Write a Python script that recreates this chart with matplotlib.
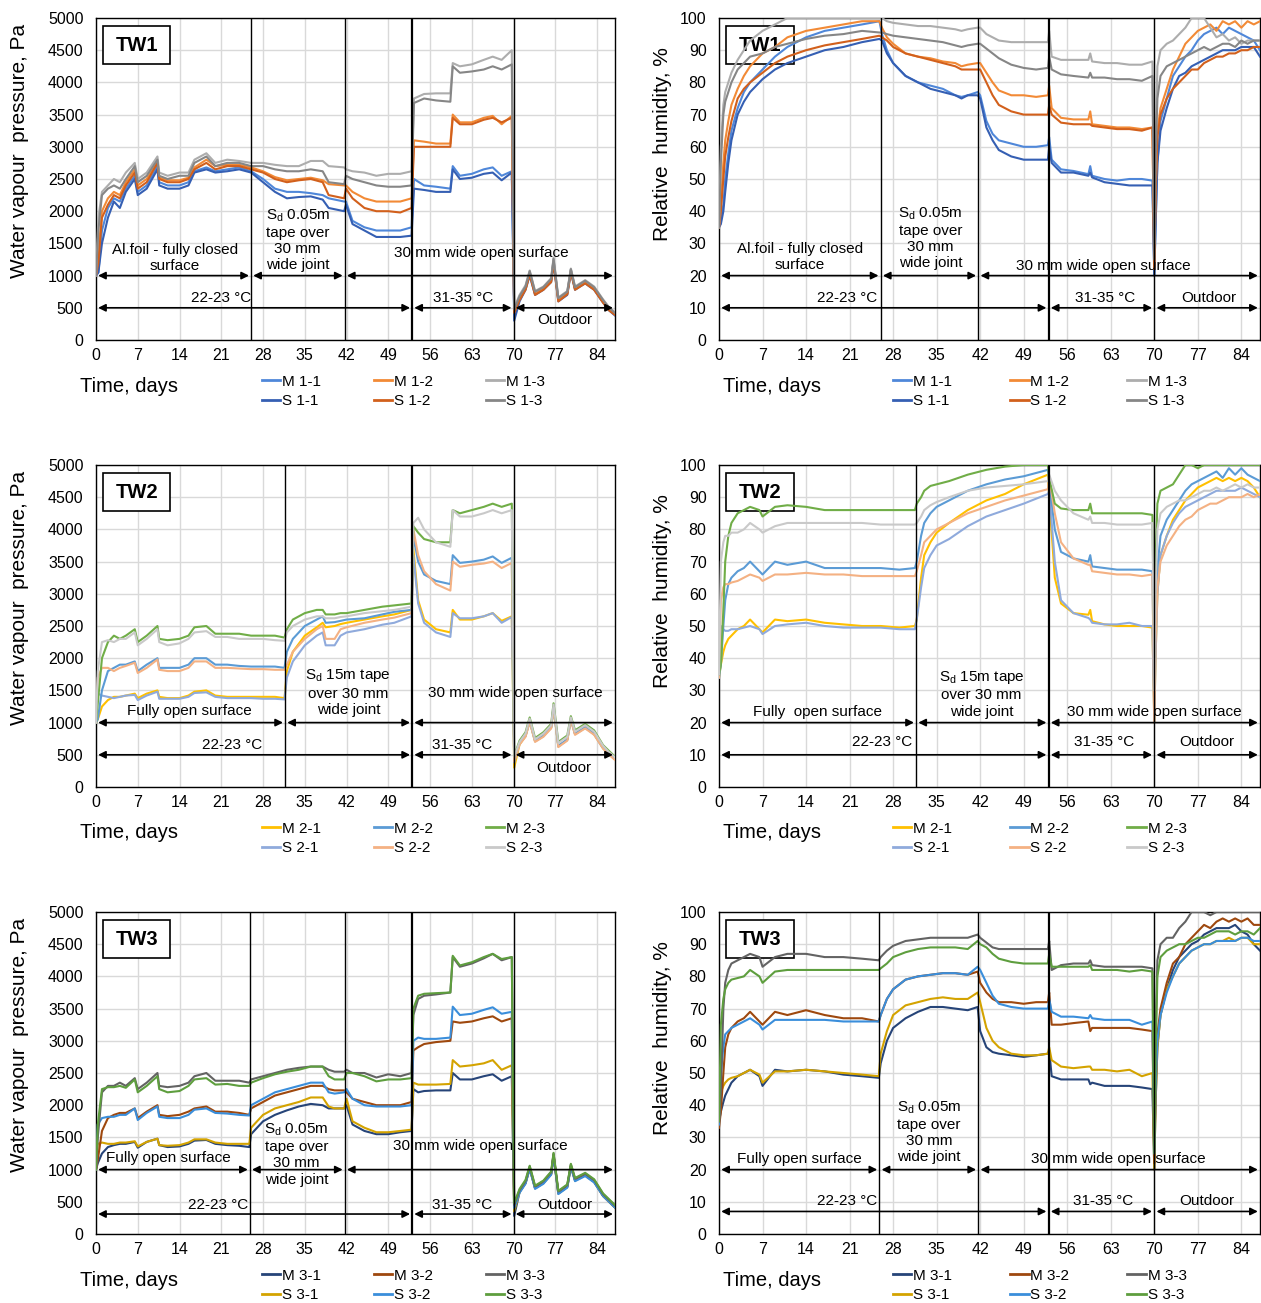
import numpy as np
import matplotlib
matplotlib.use('Agg')
import matplotlib.pyplot as plt
from matplotlib.patches import Rectangle

plt.rcParams['font.family'] = ['Liberation Sans', 'DejaVu Sans']
plt.rcParams['mathtext.fontset'] = 'custom'
plt.rcParams['mathtext.rm'] = 'Liberation Sans'
plt.rcParams['mathtext.it'] = 'Liberation Sans:italic'

# ---------------- DATA ----------------
XTICKS = [0, 7, 14, 21, 28, 35, 42, 49, 56, 63, 70, 77, 84]

# TW1 water vapour pressure, Pa
T1P = [0, 0.4, 1, 2, 3, 4, 5, 6.5, 7, 8.5, 10.3, 10.6, 12, 14, 15.5, 16.5, 18.5, 20, 22, 24, 26,
       28, 30, 32, 34, 36, 38, 39, 41.6,
       41.9, 43, 45, 47, 49, 51, 52.9,
       53.3, 55, 57, 59.4, 59.8, 61, 63, 65, 66.5, 68, 69.7,
       70.1, 71, 72, 72.7, 73.6, 75, 76.3, 76.7, 77.5, 79, 79.6, 80.3, 82, 83.5, 85, 86, 87]
P_M11 = [1000, 1050, 1700, 2050, 2200, 2150, 2350, 2550, 2300, 2400, 2700, 2450, 2400, 2400, 2450, 2620, 2680, 2620, 2650, 2680, 2620,
         2500, 2350, 2300, 2300, 2280, 2250, 2200, 2150,
         2150, 1850, 1750, 1700, 1700, 1700, 1750,
         2500, 2400, 2380, 2350, 2700, 2550, 2580, 2650, 2680, 2550, 2620,
         450, 650, 800, 1050, 720, 800, 930, 1240, 620, 730, 1090, 800, 900, 800, 600, 480, 400]
P_S11 = [1000, 1050, 1500, 1900, 2150, 2050, 2300, 2500, 2250, 2350, 2650, 2400, 2350, 2350, 2400, 2600, 2650, 2600, 2620, 2650, 2600,
         2450, 2300, 2200, 2220, 2230, 2180, 2050, 2000,
         2100, 1800, 1700, 1600, 1600, 1600, 1620,
         2350, 2330, 2300, 2300, 2650, 2500, 2520, 2580, 2600, 2480, 2600,
         300, 600, 780, 1000, 700, 780, 900, 1200, 600, 700, 1050, 780, 880, 780, 580, 460, 380]
P_M12 = [1000, 1350, 2000, 2200, 2300, 2250, 2450, 2650, 2400, 2500, 2780, 2520, 2480, 2480, 2520, 2680, 2800, 2700, 2720, 2720, 2680,
         2620, 2530, 2480, 2500, 2520, 2480, 2420, 2400,
         2400, 2300, 2200, 2150, 2150, 2150, 2200,
         3100, 3080, 3050, 3050, 3500, 3380, 3380, 3450, 3480, 3350, 3480,
         450, 640, 800, 1040, 720, 790, 920, 1230, 620, 720, 1080, 800, 890, 800, 590, 470, 400]
P_S12 = [1000, 1200, 1900, 2100, 2250, 2200, 2400, 2600, 2350, 2450, 2750, 2500, 2450, 2450, 2500, 2650, 2750, 2650, 2700, 2700, 2650,
         2600, 2500, 2450, 2480, 2500, 2450, 2250, 2200,
         2350, 2200, 2050, 2000, 2000, 1980, 2050,
         3000, 3000, 3000, 3000, 3450, 3350, 3350, 3420, 3450, 3380, 3450,
         420, 620, 780, 1020, 700, 780, 900, 1200, 600, 710, 1060, 780, 880, 780, 580, 460, 390]
P_M13 = [1000, 1900, 2300, 2400, 2500, 2450, 2600, 2750, 2500, 2600, 2850, 2600, 2550, 2600, 2600, 2800, 2900, 2750, 2800, 2780, 2750,
         2750, 2720, 2700, 2700, 2780, 2780, 2700, 2680,
         2650, 2620, 2600, 2550, 2580, 2580, 2620,
         3750, 3820, 3830, 3830, 4300, 4250, 4280, 4350, 4400, 4350, 4500,
         500, 700, 850, 1080, 760, 830, 960, 1280, 660, 760, 1110, 830, 930, 830, 630, 510, 430]
P_S13 = [1000, 1700, 2250, 2350, 2400, 2350, 2500, 2700, 2450, 2550, 2800, 2550, 2500, 2550, 2550, 2750, 2850, 2700, 2750, 2750, 2700,
         2700, 2650, 2620, 2620, 2650, 2620, 2450, 2420,
         2550, 2500, 2450, 2400, 2380, 2380, 2400,
         3680, 3750, 3720, 3700, 4250, 4150, 4170, 4200, 4250, 4200, 4280,
         470, 680, 830, 1070, 750, 820, 950, 1260, 650, 750, 1100, 820, 920, 820, 620, 500, 420]

# TW1 relative humidity, %
T1R = [0, 0.3, 0.7, 1, 1.5, 2, 3, 4, 5, 7, 9, 11, 14, 17, 20, 23, 25.8,
       26.2, 27, 28, 30, 32, 34, 36, 38, 39, 40, 41.6,
       42, 43, 44, 45, 47, 49, 51, 52.9,
       53.1, 53.5, 55, 57, 59.4, 59.7, 60, 62, 64, 66, 68, 69.7,
       70, 70.2, 70.5, 71, 72, 73, 74, 75, 76, 77, 78, 79, 80, 81, 82, 83, 84, 85, 86, 87]
R_M11 = [35, 37, 42, 50, 58, 65, 72, 77, 80, 84, 88, 91, 94, 96, 97, 98, 99,
         95, 90, 86, 82, 80, 79, 78, 76, 75.5, 76, 77,
         76, 68, 64, 62, 61, 60, 60, 60.5,
         63, 56, 53, 52.5, 51.5, 54, 51, 50, 49.5, 50, 50, 49.5,
         20, 35, 55, 68, 75, 82, 85, 88, 90, 93, 95, 96, 97, 95, 97, 96, 95, 94, 93, 90]
R_S11 = [35, 36, 40, 46, 55, 62, 70, 74, 77, 81, 84, 86, 88, 90, 91, 92.5, 93.5,
         93, 89, 86, 82, 80, 78, 77, 76, 75, 76, 76,
         75, 66, 62, 59, 57, 56, 56, 56,
         60, 55, 52, 52, 51, 52, 50.5, 49, 48.5, 48, 48, 48,
         20, 35, 55, 65, 72, 78, 82, 83, 85, 86, 87, 88, 89, 90, 90, 90, 91, 91, 91, 88]
R_M12 = [35, 42, 55, 62, 68, 73, 78, 82, 85, 89, 91, 94, 96, 97, 98, 99, 99,
         97, 94, 92, 89, 88, 87.5, 86.5, 86, 85, 85.5, 86,
         86, 83, 80, 77.5, 76, 76, 75.5, 76,
         79, 72, 69, 68.5, 68.5, 71, 67, 66.5, 66, 66, 65.5, 66,
         22, 45, 65, 72, 78, 84, 88, 92, 94, 96, 97, 98, 96, 99, 98, 99, 97, 99, 98, 99]
R_S12 = [35, 40, 50, 57, 63, 68, 75, 78, 80, 83, 86, 88, 90, 91.5, 92.5, 93.5, 94.5,
         94, 93, 91, 89, 88, 87, 86, 85, 84, 84, 84,
         84, 80, 76, 73, 71, 70, 70, 70,
         73, 70, 67.5, 67, 67, 67, 66.5, 66, 65.5, 65.5, 65, 66,
         22, 45, 63, 70, 75, 78, 80, 82, 84, 84, 86, 87, 88, 88, 89, 89, 90, 90, 91, 91]
R_M13 = [35, 60, 73, 77, 80, 83, 87, 90, 93, 96, 98, 100, 100, 100, 100, 100, 100,
         100, 99, 98.5, 98, 97.5, 97.5, 97, 96.5, 96, 96.5, 97,
         97, 95, 94, 93, 92.5, 92.5, 92.5, 92.5,
         96, 88, 87, 87, 87, 89, 86.5, 86, 86, 85.5, 85.5, 86.5,
         30, 60, 85, 90, 92, 93, 95, 97, 100, 100, 100, 97, 94, 95, 93, 94, 92, 93, 93, 93]
R_S13 = [35, 55, 70, 74, 77, 80, 84, 86, 88, 89, 91, 92, 93.5, 94.5, 95, 96, 95.5,
         95.5, 95, 94.5, 94, 93.5, 93, 92.5, 91.5, 91, 91.5, 92,
         92, 90.5, 89, 87.5, 85.5, 84.5, 84, 84.5,
         88, 84, 82.5, 82, 81.5, 83, 81.5, 81.5, 81, 81, 80.5, 82,
         25, 55, 75, 82, 85, 86, 87, 88, 89, 90, 91, 90, 91, 92, 92, 91, 93, 92, 93, 93]

# TW2 water vapour pressure, Pa
T2P = [0, 0.3, 1, 2, 3, 4, 5, 6.5, 7, 8.5, 10.3, 10.6, 12, 14, 15.5, 16.5, 18.5, 20, 22, 24, 26, 28, 30, 31.6,
       32, 33, 35, 37, 38, 38.5, 40, 41, 42, 45, 48, 50, 52.9,
       53.2, 54, 55, 57, 59.4, 59.8, 61, 63, 65, 66.5, 68, 69.7,
       70.1, 71, 72, 72.7, 73.6, 75, 76.3, 76.7, 77.5, 79, 79.6, 80.3, 82, 83.5, 85, 86, 87]
P_M21 = [1000, 1050, 1250, 1350, 1400, 1400, 1420, 1450, 1380, 1450, 1500, 1400, 1380, 1380, 1420, 1480, 1500, 1420, 1400, 1400, 1400, 1400, 1400, 1380,
         1800, 2100, 2350, 2480, 2550, 2480, 2500, 2530, 2550, 2600, 2650, 2680, 2750,
         3700, 2900, 2600, 2450, 2400, 2750, 2600, 2600, 2650, 2700, 2580, 2650,
         300, 660, 790, 1020, 710, 790, 920, 1240, 630, 730, 1050, 820, 920, 820, 600, 510, 430]
P_S21 = [1000, 1450, 1420, 1400, 1380, 1400, 1420, 1430, 1350, 1420, 1480, 1370, 1370, 1370, 1400, 1460, 1470, 1400, 1380, 1380, 1380, 1370, 1370, 1360,
         1700, 1950, 2200, 2350, 2400, 2200, 2200, 2350, 2400, 2450, 2520, 2550, 2650,
         3600, 2850, 2550, 2400, 2330, 2700, 2620, 2620, 2650, 2700, 2550, 2640,
         380, 670, 790, 1020, 710, 790, 920, 1240, 630, 730, 1050, 820, 920, 820, 600, 510, 430]
P_M22 = [1000, 1050, 1500, 1800, 1850, 1900, 1900, 1950, 1800, 1900, 2000, 1850, 1850, 1850, 1900, 2000, 2000, 1900, 1900, 1880, 1870, 1870, 1870, 1850,
         2100, 2300, 2500, 2600, 2650, 2550, 2560, 2580, 2600, 2620, 2680, 2720, 2750,
         3900, 3500, 3300, 3200, 3150, 3600, 3480, 3500, 3530, 3580, 3480, 3560,
         420, 680, 800, 1030, 720, 800, 930, 1250, 640, 740, 1060, 830, 930, 830, 610, 520, 440]
P_S22 = [1000, 1700, 1850, 1850, 1800, 1850, 1880, 1930, 1770, 1850, 1980, 1820, 1800, 1800, 1850, 1950, 1950, 1850, 1850, 1840, 1830, 1830, 1820, 1820,
         1900, 2100, 2300, 2450, 2500, 2300, 2300, 2450, 2480, 2550, 2600, 2630, 2700,
         4000, 3600, 3350, 3150, 3050, 3500, 3420, 3450, 3470, 3500, 3400, 3480,
         400, 660, 780, 1010, 700, 780, 910, 1230, 620, 720, 1040, 810, 910, 810, 600, 500, 420]
P_M23 = [1000, 1300, 2000, 2250, 2350, 2300, 2350, 2450, 2250, 2350, 2500, 2300, 2280, 2300, 2350, 2480, 2500, 2380, 2380, 2380, 2350, 2350, 2350, 2320,
         2450, 2600, 2700, 2750, 2750, 2680, 2680, 2700, 2700, 2750, 2800, 2820, 2850,
         4050, 3950, 3850, 3800, 3800, 4300, 4250, 4300, 4350, 4400, 4350, 4400,
         480, 720, 850, 1080, 760, 850, 980, 1300, 700, 800, 1100, 880, 980, 880, 650, 560, 470]
P_S23 = [1000, 1800, 2250, 2280, 2250, 2300, 2300, 2400, 2200, 2300, 2450, 2250, 2200, 2230, 2300, 2400, 2420, 2330, 2330, 2300, 2300, 2300, 2280, 2270,
         2400, 2500, 2600, 2650, 2650, 2620, 2620, 2640, 2650, 2700, 2730, 2750, 2800,
         4100, 4180, 4000, 3800, 3730, 4300, 4200, 4200, 4250, 4300, 4250, 4300,
         470, 700, 830, 1060, 740, 830, 960, 1280, 680, 780, 1080, 860, 960, 860, 640, 540, 460]

# TW2 relative humidity, %
T2R = [0, 0.3, 0.7, 1, 1.5, 2, 3, 4, 5, 6.5, 7, 9, 11, 14, 17, 20, 23, 26, 29, 31.5,
       31.8, 32.5, 33, 34, 35, 37, 40, 43, 46, 49, 52.9,
       53.1, 54, 55, 57, 59.4, 59.7, 60, 62, 64, 66, 68, 69.7,
       70, 70.2, 70.5, 71, 72, 73, 74, 75, 76, 77, 78, 79, 80, 81, 82, 83, 84, 85, 86, 87]
R_M21 = [34, 38, 42, 44, 46, 47, 49, 50, 52, 49, 48, 52, 51.5, 52, 51, 50.5, 50, 50, 49.5, 50,
         52, 65, 72, 76, 79, 82, 86, 89, 91, 94, 97,
         90, 65, 57, 54, 53.5, 55, 51.5, 50.5, 50, 50, 50, 49.5,
         20, 40, 60, 72, 78, 83, 86, 89, 91, 93, 94, 95, 96, 95, 96, 95, 96, 95, 93, 90]
R_S21 = [34, 50, 49, 48.5, 48.5, 49, 49, 49.5, 50, 49, 47.5, 50, 50.5, 51, 50, 49.5, 49.5, 49.5, 49, 49,
         52, 62, 68, 72, 75, 77, 81, 84, 86, 88, 91,
         92, 70, 58, 54, 52.5, 52, 51, 50.5, 50.5, 51, 50, 50,
         20, 40, 60, 72, 78, 82, 85, 87, 88, 89, 90, 91, 92, 92, 92, 92, 93, 92, 91, 90]
R_M22 = [34, 38, 50, 58, 63, 65, 67, 68, 70, 67, 66, 70, 69, 70, 68, 68, 68, 68, 67.5, 68,
         70, 78, 82, 85, 87, 89, 92, 94, 95.5, 96.5, 98.5,
         95, 80, 73, 71, 70, 72, 68.5, 68, 67.5, 67.5, 67.5, 67,
         25, 50, 68, 78, 83, 86, 89, 92, 94, 95, 96, 97, 98, 96, 99, 97, 99, 97, 96, 95]
R_S22 = [34, 58, 62, 63, 63, 63.5, 64, 65, 66, 65, 64, 66, 66, 66.5, 66, 66, 65.5, 65.5, 65.5, 65.5,
         67, 72, 76, 78, 80, 82, 85, 87, 89, 90.5, 92.5,
         96, 85, 76, 71, 69, 69, 67, 66.5, 66, 66, 65.5, 66,
         20, 45, 62, 70, 75, 78, 81, 83, 84, 86, 87, 88, 88, 89, 90, 90, 90, 91, 90, 91]
R_M23 = [35, 38, 55, 70, 78, 82, 85, 86, 87, 86, 84, 87, 87.5, 87, 86, 86, 86, 86, 86, 86,
         88, 90, 92, 93.5, 94, 95, 97, 98.5, 99.5, 100, 100,
         96, 88, 86.5, 86, 86, 88, 85, 85, 85, 85, 85, 84.5,
         40, 70, 88, 92, 93, 94, 97, 100, 100, 99, 100, 100, 100, 100, 100, 100, 100, 100, 100, 100]
R_S23 = [35, 70, 76, 78, 78, 79, 79, 80, 82, 80, 79, 81, 82, 82, 82, 82, 82, 81.5, 81.5, 81.5,
         82, 84, 86, 87.5, 88.5, 90, 92, 93, 93.5, 94, 95,
         97, 92, 89, 85, 83, 84, 82, 82, 81.5, 81.5, 81.5, 82,
         30, 60, 80, 85, 87, 88, 89, 89, 90, 91, 92, 92, 93, 92, 93, 94, 93, 94, 93, 93]

# TW3 water vapour pressure, Pa
T3P = [0, 0.3, 1, 2, 3, 4, 5, 6.5, 7, 8.5, 10.3, 10.6, 12, 14, 15.5, 16.5, 18.5, 20, 22, 24, 25.7,
       26, 28, 30, 32, 34, 36, 38, 39, 40, 41.6,
       42, 43, 45, 47, 49, 51, 52.9,
       53.2, 54, 55, 57, 59.4, 59.8, 61, 63, 65, 66.5, 68, 69.7,
       70.1, 71, 72, 72.7, 73.6, 75, 76.3, 76.7, 77.5, 79, 79.6, 80.3, 82, 83.5, 85, 86, 87]
P_M31 = [1000, 1100, 1250, 1350, 1380, 1400, 1400, 1430, 1340, 1430, 1480, 1380, 1350, 1360, 1400, 1450, 1460, 1400, 1380, 1370, 1350,
         1550, 1750, 1850, 1920, 1980, 2020, 2000, 1950, 1950, 1950,
         2000, 1700, 1600, 1550, 1550, 1580, 1600,
         2250, 2200, 2220, 2230, 2230, 2500, 2400, 2400, 2450, 2480, 2380, 2450,
         280, 650, 790, 1020, 710, 790, 930, 1220, 630, 730, 1050, 830, 910, 810, 590, 500, 410]
P_S31 = [1000, 1400, 1420, 1400, 1400, 1420, 1420, 1440, 1360, 1430, 1480, 1380, 1370, 1380, 1420, 1470, 1470, 1420, 1400, 1400, 1400,
         1650, 1850, 1950, 2000, 2050, 2120, 2120, 1980, 1950, 1950,
         2100, 1750, 1650, 1580, 1580, 1600, 1620,
         2350, 2320, 2320, 2320, 2330, 2700, 2600, 2620, 2650, 2700, 2550, 2620,
         350, 650, 790, 1020, 710, 790, 930, 1220, 630, 730, 1050, 830, 910, 810, 590, 500, 410]
P_M32 = [1000, 1150, 1600, 1800, 1850, 1880, 1880, 1950, 1800, 1900, 2000, 1850, 1830, 1850, 1900, 1950, 1980, 1900, 1900, 1880, 1850,
         1950, 2050, 2150, 2200, 2250, 2300, 2300, 2250, 2230, 2230,
         2200, 2100, 2050, 2000, 2000, 2000, 2050,
         2850, 2900, 2950, 2980, 3000, 3300, 3280, 3300, 3350, 3380, 3300, 3350,
         420, 660, 800, 1030, 720, 800, 940, 1230, 640, 740, 1060, 840, 920, 820, 600, 510, 420]
P_S32 = [1000, 1700, 1800, 1820, 1820, 1850, 1850, 1950, 1770, 1880, 1980, 1820, 1800, 1800, 1850, 1930, 1950, 1880, 1870, 1850, 1840,
         2000, 2100, 2200, 2250, 2300, 2350, 2350, 2200, 2180, 2200,
         2250, 2100, 2000, 1980, 1980, 1980, 2000,
         3000, 3050, 3030, 3030, 3050, 3530, 3400, 3420, 3480, 3520, 3420, 3450,
         400, 640, 780, 1010, 700, 780, 920, 1210, 620, 720, 1040, 820, 900, 800, 590, 500, 410]
P_M33 = [1000, 1500, 2200, 2300, 2300, 2350, 2300, 2420, 2250, 2350, 2500, 2300, 2280, 2300, 2350, 2450, 2500, 2380, 2380, 2380, 2350,
         2400, 2450, 2500, 2550, 2580, 2600, 2600, 2550, 2520, 2520,
         2550, 2500, 2500, 2430, 2480, 2450, 2500,
         3400, 3650, 3700, 3720, 3750, 4300, 4150, 4200, 4280, 4350, 4250, 4300,
         450, 680, 820, 1050, 740, 820, 960, 1250, 660, 760, 1080, 860, 940, 840, 620, 530, 440]
P_S33 = [1000, 1700, 2250, 2280, 2280, 2300, 2270, 2400, 2200, 2300, 2450, 2250, 2200, 2220, 2300, 2400, 2420, 2320, 2330, 2300, 2300,
         2350, 2420, 2480, 2520, 2550, 2600, 2600, 2450, 2400, 2400,
         2500, 2500, 2450, 2370, 2400, 2400, 2420,
         3500, 3700, 3730, 3740, 3750, 4320, 4170, 4220, 4300, 4350, 4270, 4300,
         480, 700, 840, 1060, 750, 830, 970, 1260, 670, 770, 1090, 870, 950, 850, 630, 540, 450]

# TW3 relative humidity, %
T3R = [0, 0.3, 0.7, 1, 1.5, 2, 3, 4, 5, 6.5, 7, 9, 11, 14, 17, 20, 23, 25.7,
       26, 27, 28, 30, 32, 34, 36, 38, 40, 41.6,
       42, 43, 44, 45, 47, 49, 51, 52.9,
       53.1, 53.5, 55, 57, 59.4, 59.7, 60, 62, 64, 66, 68, 69.7,
       70, 70.2, 70.5, 71, 72, 73, 74, 75, 76, 77, 78, 79, 80, 81, 82, 83, 84, 85, 86, 87]
R_M31 = [35, 38, 41, 43, 45, 47, 49, 50, 51, 49, 46, 51, 50.5, 51, 50.5, 49.5, 49, 48.5,
         53, 60, 64, 67, 69, 70.5, 70.5, 70, 69.5, 70.5,
         63, 58, 56.5, 56, 55.5, 55, 55.5, 56,
         57, 49, 48, 48, 48, 46.5, 47, 46, 46, 46, 45.5, 45,
         20, 40, 58, 68, 76, 82, 86, 88, 90, 91, 93, 94, 95, 95, 95, 96, 94, 93, 90, 88]
R_S31 = [35, 44, 46, 47, 48, 48.5, 49, 50, 51, 49.5, 47, 50.5, 50.5, 51, 50.5, 50, 49.5, 49,
         56, 63, 68, 71, 72, 73, 73.5, 73, 73, 75,
         72, 64, 60, 58, 56, 55.5, 55.5, 56,
         58, 54, 52, 51.5, 52, 52, 51, 51, 50.5, 51, 49, 50,
         20, 40, 58, 68, 76, 80, 84, 86, 88, 89, 90, 90, 91, 91, 92, 91, 92, 92, 90, 90]
R_M32 = [33, 38, 50, 58, 62, 64, 66, 67, 69, 66, 65, 69, 68, 69.5, 68, 67, 67, 66,
         68, 73, 76, 79, 80, 80.5, 81, 81, 80.5, 81.5,
         78, 75, 73, 72, 72, 71.5, 72, 72,
         75, 65, 65, 65.5, 66, 63, 64, 64, 64, 64, 63.5, 63,
         22, 45, 62, 70, 78, 84, 86, 90, 92, 94, 96, 95, 97, 98, 97, 98, 97, 98, 96, 96]
R_S32 = [34, 50, 58, 62, 63, 64, 65, 66, 67, 65, 63.5, 66.5, 66.5, 66.5, 66.5, 66, 66, 66,
         68, 73, 76, 79, 80, 80.5, 81, 81, 80.5, 83,
         82, 78, 74, 71.5, 70.5, 70, 70, 70,
         73, 69, 67.5, 67.5, 67, 68, 67, 66.5, 66.5, 66.5, 65, 66,
         25, 45, 60, 68, 75, 80, 84, 86, 88, 89, 90, 90, 91, 91, 91, 91, 92, 92, 91, 91]
R_M33 = [35, 45, 70, 78, 82, 84, 85, 86, 87, 86, 83, 86, 87, 87, 86, 86, 85.5, 85,
         86, 88, 89.5, 91, 91.5, 92, 92, 92, 92, 93,
         92, 90.5, 89, 88.5, 88.5, 88.5, 88.5, 88.5,
         91, 82, 83.5, 84, 84, 85, 83.5, 83, 83, 83, 83, 82.5,
         30, 60, 85, 90, 92, 92, 95, 97, 100, 100, 100, 99, 100, 100, 100, 100, 100, 100, 100, 100]
R_S33 = [35, 65, 73, 76, 78, 79, 79.5, 80, 82, 80, 78, 81.5, 82, 82, 82, 82, 82, 82,
         82.5, 84, 86, 87.5, 88.5, 89, 89, 89, 88.5, 91,
         90, 89, 87, 85.5, 84.5, 84, 84, 84,
         87, 83, 83, 83, 83, 83.5, 82, 82, 82, 81.5, 82, 81.5,
         25, 55, 80, 86, 88, 89, 90, 90, 91, 92, 92, 93, 94, 94, 94, 93, 94, 94, 93, 95]

# ---------------- STYLE ----------------
W, H = 1261, 1303
fig = plt.figure(figsize=(W / 100, H / 100), dpi=100)

C1 = {'M 1-1': '#4F87D9', 'S 1-1': '#355FB3', 'M 1-2': '#F28A36', 'S 1-2': '#D2601C',
      'M 1-3': '#ADADAD', 'S 1-3': '#868686'}
C2 = {'M 2-1': '#FFC000', 'S 2-1': '#8FAADC', 'M 2-2': '#5B9BD5', 'S 2-2': '#F4B183',
      'M 2-3': '#70AD47', 'S 2-3': '#C9C9C9'}
C3 = {'M 3-1': '#264478', 'S 3-1': '#D4A300', 'M 3-2': '#9E480E', 'S 3-2': '#3A8EDB',
      'M 3-3': '#636363', 'S 3-3': '#5E9E3E'}

SD005 = 'S$_{\\rm d}$ 0.05m\ntape over\n30 mm\nwide joint'
SD15 = 'S$_{\\rm d}$ 15m tape\nover 30 mm\nwide joint'


def make_axes(x0, y0, x1, y1):
    return fig.add_axes([x0 / W, 1 - y1 / H, (x1 - x0) / W, (y1 - y0) / H])


def panel(ax, t, series, colors, ymax, ystep, tag, bounds, arr_hi, arr_lo, texts, leg_x, leg_y):
    ax.set_xlim(0, 87)
    ax.set_ylim(0, ymax)
    ax.set_xticks(XTICKS)
    ax.set_yticks(np.arange(0, ymax + 0.1, ystep))
    ax.grid(True, color='#D9D9D9', lw=1.0)
    ax.set_axisbelow(True)
    ax.tick_params(axis='both', length=0, labelsize=11.5)
    ax.tick_params(axis='x', pad=6)
    ax.tick_params(axis='y', pad=9)
    for s in ax.spines.values():
        s.set_color('black')
        s.set_linewidth(1.0)
    # tag box
    bw = 0.13 * (519 / ax.get_position().width / W)
    ax.add_patch(Rectangle((0.0135, 0.857), bw, 0.118,
                           transform=ax.transAxes, facecolor='white', edgecolor='black', lw=1.2, zorder=2))
    ax.text(0.0135 + bw / 2, 0.857 + 0.059, tag, transform=ax.transAxes, ha='center', va='center',
            fontsize=14.5, fontweight='bold', zorder=2)
    handles = []
    for name, vals in series:
        assert len(vals) == len(t), (tag, name, len(vals), len(t))
        ln, = ax.plot(t, vals, color=colors[name], lw=1.5, label=name, zorder=3)
        handles.append(ln)
    for b in bounds:
        ax.axvline(b, color='black', lw=1.6 if b == 53 else 1.0, zorder=4)
    for (yv, spans) in (arr_hi, arr_lo):
        for a, b in spans:
            ax.annotate('', xy=(b - 0.35, yv), xytext=(a + 0.35, yv),
                        arrowprops=dict(arrowstyle='<|-|>', color='black', lw=1.2,
                                        mutation_scale=11, shrinkA=0, shrinkB=0), zorder=5)
    for x, y, s in texts:
        ax.text(x, y, s, ha='center', va='center', fontsize=11, zorder=6, linespacing=1.2)
    leg = fig.legend(handles, [n for n, _ in series],
                     loc='center left', bbox_to_anchor=(leg_x / W, 1 - leg_y / H),
                     bbox_transform=fig.transFigure, ncol=3, frameon=False, fontsize=11,
                     handlelength=1.2, handletextpad=0.12, borderpad=0, borderaxespad=0,
                     labelspacing=0.38,
                     columnspacing=3.45 if leg_x < 600 else 3.8)
    for h in leg.get_lines():
        h.set_linewidth(2.0)


ROWS = [(18, 340), (465, 787), (912, 1234)]
DY = [0, 447, 894]

# ---- Row 1 : TW1 ----
axL = make_axes(96, ROWS[0][0], 615, ROWS[0][1])
panel(axL, T1P, [('M 1-1', P_M11), ('S 1-1', P_S11), ('M 1-2', P_M12), ('S 1-2', P_S12),
                 ('M 1-3', P_M13), ('S 1-3', P_S13)], C1, 5000, 500, 'TW1',
      [26, 41.7, 53, 70], (1000, [(0, 26), (26, 41.7), (41.7, 87)]),
      (500, [(0, 53), (53, 70), (70, 87)]),
      [(13.2, 1273, 'Al.foil - fully closed\nsurface'), (33.8, 1553, SD005),
       (64.6, 1351, '30 mm wide open surface'), (20.9, 652, '22-23 °C'),
       (61.6, 652, '31-35 °C'), (78.6, 311, 'Outdoor')], 262, 391.5)

axR = make_axes(719, ROWS[0][0], 1260, ROWS[0][1])
panel(axR, T1R, [('M 1-1', R_M11), ('S 1-1', R_S11), ('M 1-2', R_M12), ('S 1-2', R_S12),
                 ('M 1-3', R_M13), ('S 1-3', R_S13)], C1, 100, 10, 'TW1',
      [26, 41.7, 53, 70], (20, [(0, 26), (26, 41.7), (41.7, 87)]),
      (10, [(0, 53), (53, 70), (70, 87)]),
      [(13.0, 25.9, 'Al.foil - fully closed\nsurface'), (34.0, 31.7, SD005),
       (61.8, 23, '30 mm wide open surface'), (20.6, 13, '22-23 °C'),
       (62.1, 13, '31-35 °C'), (78.7, 13, 'Outdoor')], 893, 391.5)

# ---- Row 2 : TW2 ----
axL = make_axes(96, ROWS[1][0], 615, ROWS[1][1])
panel(axL, T2P, [('M 2-1', P_M21), ('S 2-1', P_S21), ('M 2-2', P_M22), ('S 2-2', P_S22),
                 ('M 2-3', P_M23), ('S 2-3', P_S23)], C2, 5000, 500, 'TW2',
      [31.7, 53, 70], (1000, [(0, 31.7), (31.7, 53), (53, 87)]),
      (500, [(0, 53), (53, 70), (70, 87)]),
      [(15.7, 1180, 'Fully open surface'), (42.3, 1475, SD15),
       (70.3, 1460, '30 mm wide open surface'), (22.8, 652, '22-23 °C'),
       (61.4, 652, '31-35 °C'), (78.5, 295, 'Outdoor')], 262, 391.5 + DY[1])

axR = make_axes(719, ROWS[1][0], 1260, ROWS[1][1])
panel(axR, T2R, [('M 2-1', R_M21), ('S 2-1', R_S21), ('M 2-2', R_M22), ('S 2-2', R_S22),
                 ('M 2-3', R_M23), ('S 2-3', R_S23)], C2, 100, 10, 'TW2',
      [31.7, 53, 70], (20, [(0, 31.7), (31.7, 53), (53, 87)]),
      (10, [(0, 53), (53, 70), (70, 87)]),
      [(15.8, 23.3, 'Fully  open surface'), (42.2, 28.9, SD15),
       (70.0, 23.3, '30 mm wide open surface'), (26.2, 14.0, '22-23 °C'),
       (62.0, 14.0, '31-35 °C'), (78.5, 14.0, 'Outdoor')], 893, 391.5 + DY[1])

# ---- Row 3 : TW3 ----
axL = make_axes(96, ROWS[2][0], 615, ROWS[2][1])
panel(axL, T3P, [('M 3-1', P_M31), ('S 3-1', P_S31), ('M 3-2', P_M32), ('S 3-2', P_S32),
                 ('M 3-3', P_M33), ('S 3-3', P_S33)], C3, 5000, 500, 'TW3',
      [25.8, 41.7, 53, 70], (1000, [(0, 25.8), (25.8, 41.7), (41.7, 87)]),
      (310, [(0, 53), (53, 70), (70, 87)]),
      [(12.2, 1180, 'Fully open surface'), (33.6, 1242, SD005),
       (64.4, 1366, '30 mm wide open surface'), (20.4, 450, '22-23 °C'),
       (61.4, 450, '31-35 °C'), (78.6, 450, 'Outdoor')], 262, 391.5 + DY[2])

axR = make_axes(719, ROWS[2][0], 1260, ROWS[2][1])
panel(axR, T3R, [('M 3-1', R_M31), ('S 3-1', R_S31), ('M 3-2', R_M32), ('S 3-2', R_S32),
                 ('M 3-3', R_M33), ('S 3-3', R_S33)], C3, 100, 10, 'TW3',
      [25.8, 41.7, 53, 70], (20, [(0, 25.8), (25.8, 41.7), (41.7, 87)]),
      (7, [(0, 53), (53, 70), (70, 87)]),
      [(12.9, 23.3, 'Fully open surface'), (33.8, 31.8, SD005),
       (64.2, 23.3, '30 mm wide open surface'), (20.6, 10.2, '22-23 °C'),
       (61.8, 10.2, '31-35 °C'), (78.5, 10.2, 'Outdoor')], 893, 391.5 + DY[2])

# axis titles
for dy in DY:
    fig.text(20 / W, 1 - (151 + dy) / H, 'Water vapour  pressure, Pa', rotation=90,
             ha='center', va='center', fontsize=15)
    fig.text(663 / W, 1 - (144 + dy) / H, 'Relative  humidity, %', rotation=90,
             ha='center', va='center', fontsize=15)
    fig.text(129 / W, 1 - (386 + dy) / H, 'Time, days', ha='center', va='center', fontsize=14.5)
    fig.text(772 / W, 1 - (386 + dy) / H, 'Time, days', ha='center', va='center', fontsize=14.5)

fig.savefig('out.png', dpi=100)
